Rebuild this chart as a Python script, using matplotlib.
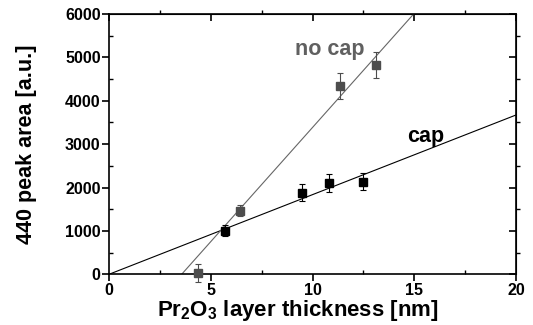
import matplotlib
matplotlib.use("Agg")
import matplotlib.pyplot as plt
from matplotlib.ticker import MultipleLocator
import numpy as np

plt.rcParams['font.family'] = ['Liberation Sans', 'DejaVu Sans']
plt.rcParams['font.weight'] = 'bold'
plt.rcParams['mathtext.fontset'] = 'custom'
plt.rcParams['mathtext.rm'] = 'Liberation Sans:bold'
plt.rcParams['mathtext.bf'] = 'Liberation Sans:bold'
plt.rcParams['mathtext.it'] = 'Liberation Sans:bold'

# no cap samples (grey)
nocap_x = [4.36, 6.44, 11.36, 13.1]
nocap_y = [30, 1466, 4341, 4825]
nocap_err = [200, 120, 300, 290]

# cap samples (black)
cap_x = [5.72, 9.46, 10.79, 12.49]
cap_y = [1005, 1881, 2097, 2135]
cap_err = [130, 200, 210, 200]

# linear fits
cap_slope = 183.6
nocap_slope = 526.3
nocap_x0 = 3.57

grey = '#4d4d4d'

fig = plt.figure(figsize=(5.33, 3.25), dpi=100)
ax = fig.add_axes([109/533, 1 - 274.3/325, (516-109)/533, (274.3-14)/325])

xs = np.array([0, 20])
ax.plot(xs, cap_slope * xs, color='black', lw=0.8)
ax.plot(xs, nocap_slope * (xs - nocap_x0), color='#666666', lw=0.8)

ax.errorbar(nocap_x, nocap_y, yerr=nocap_err, fmt='s', color=grey, ms=5.5,
            elinewidth=0.8, capsize=2.5, capthick=0.8, clip_on=False, zorder=3)
ax.errorbar(cap_x, cap_y, yerr=cap_err, fmt='s', color='black', ms=5.5,
            elinewidth=0.8, capsize=2.5, capthick=0.8, zorder=3)

ax.text(10.87, 5190, 'no cap', color='#606060', fontsize=15.5, fontweight='bold',
        ha='center', va='center')
ax.text(15.55, 3186, 'cap', color='black', fontsize=15.5, fontweight='bold',
        ha='center', va='center')

ax.set_xlim(0, 20)
ax.set_ylim(0, 6000)
ax.xaxis.set_major_locator(MultipleLocator(5))
ax.xaxis.set_minor_locator(MultipleLocator(2.5))
ax.yaxis.set_major_locator(MultipleLocator(1000))
ax.yaxis.set_minor_locator(MultipleLocator(500))

for s in ax.spines.values():
    s.set_linewidth(1.2)

ax.tick_params(which='major', direction='out', length=5, width=1.2, labelsize=11.5, pad=1)
ax.tick_params(which='minor', direction='in', length=3, width=1.0)

top = ax.secondary_xaxis('top')
top.xaxis.set_major_locator(MultipleLocator(5))
top.xaxis.set_minor_locator(MultipleLocator(2.5))
top.tick_params(which='major', direction='in', length=5, width=1.2, labeltop=False)
top.tick_params(which='minor', direction='out', length=3, width=1.0)
right = ax.secondary_yaxis('right')
right.yaxis.set_major_locator(MultipleLocator(1000))
right.yaxis.set_minor_locator(MultipleLocator(500))
right.tick_params(which='major', direction='in', length=5, width=1.2, labelright=False)
right.tick_params(which='minor', direction='out', length=3, width=1.0)

for lab in ax.get_xticklabels() + ax.get_yticklabels():
    lab.set_fontweight('bold')

ax.set_xlabel(r'Pr$_{2}$O$_{3}$ layer thickness [nm]', fontsize=16,
              fontweight='bold', labelpad=0)
ax.xaxis.label.set_x(0.465)
ax.set_ylabel('440 peak area [a.u.]', fontsize=15.5, fontweight='bold', labelpad=20)

fig.savefig('out.png', dpi=100)
